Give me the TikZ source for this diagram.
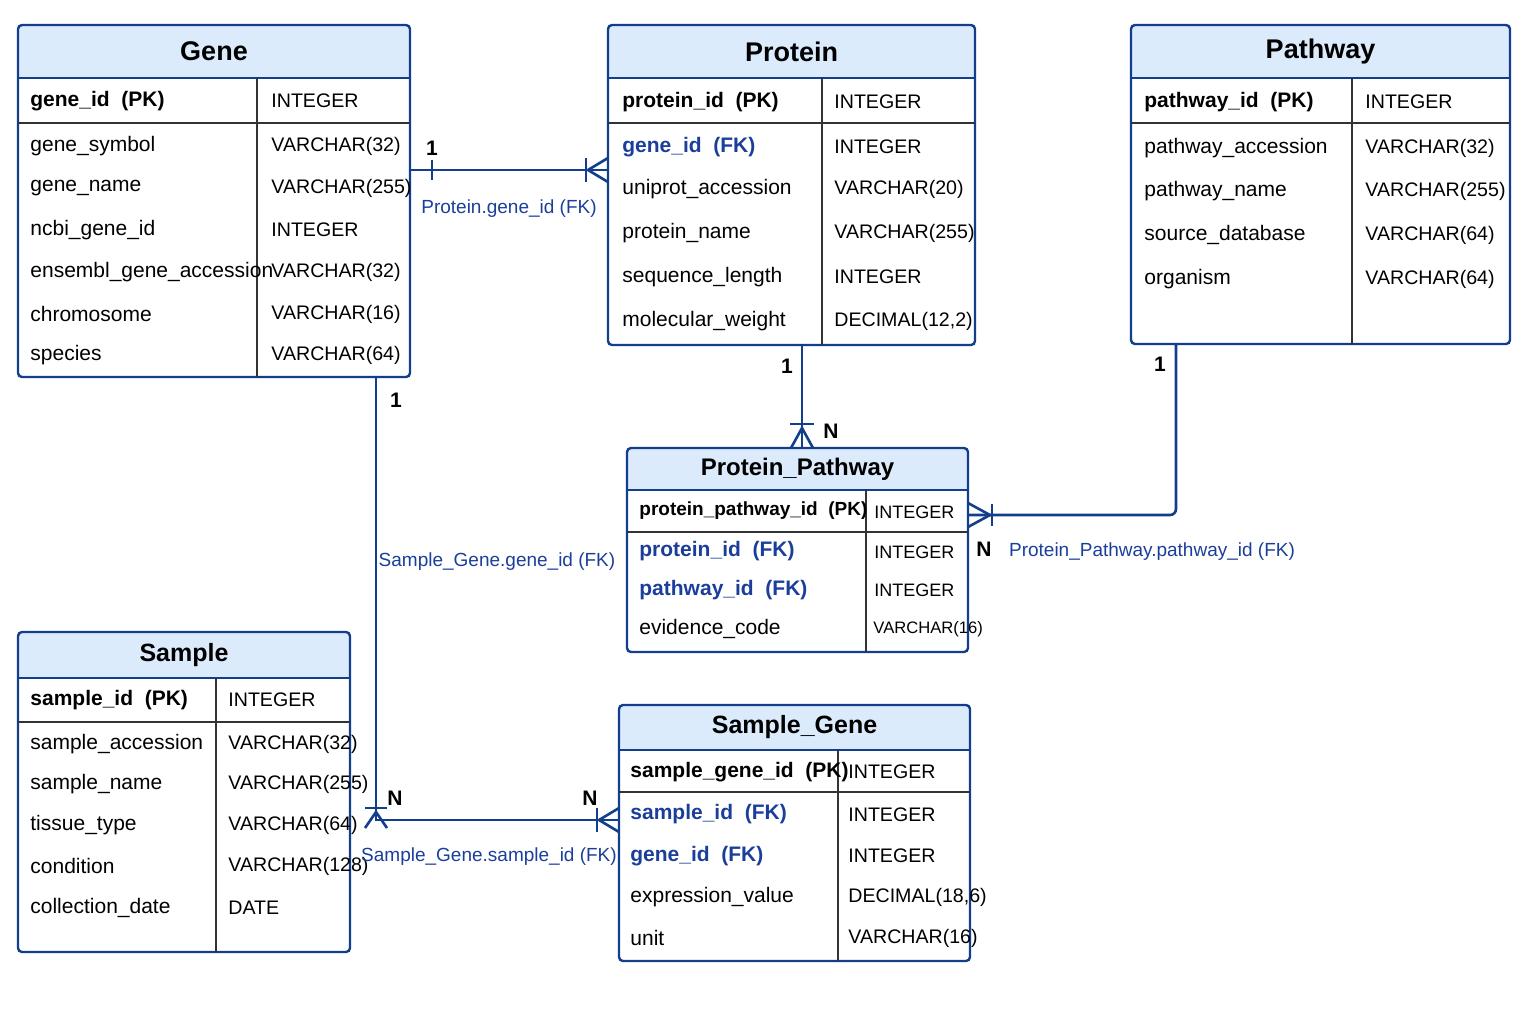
\documentclass[tikz,border=0pt]{standalone}
\usepackage{fontspec}
\setmainfont{Liberation Sans}
\definecolor{ln}{HTML}{123E8C}
\definecolor{hdr}{HTML}{DCEBFB}
\definecolor{fk}{HTML}{1A3E9A}
\begin{document}
\begin{tikzpicture}[x=0.5pt,y=-0.5pt,
  cell/.style={anchor=west,inner sep=0pt,font=\fontsize{10.5}{12}\selectfont},
  pk/.style={cell,font=\fontsize{10.5}{12}\selectfont\bfseries},
  fkc/.style={cell,font=\fontsize{10.5}{12}\selectfont\bfseries,text=fk},
  typ/.style={cell,font=\fontsize{9.8}{12}\selectfont},
  ttl/.style={inner sep=0pt,font=\fontsize{13.5}{15}\selectfont\bfseries},
  rel/.style={draw=ln,line width=1.3pt},
  card/.style={inner sep=0pt,font=\fontsize{10.5}{12}\selectfont\bfseries},
  fklab/.style={inner sep=0pt,text=fk,font=\fontsize{9.5}{12}\selectfont}]
\useasboundingbox (0,0) rectangle (1536,1024);
\newcommand\ertbl[9]{%
  \fill[hdr,rounded corners=2pt] (#2,#3) rectangle (#4,#6);
  \pgfmathsetmacro\ertw{(#4-#2)*0.5}\pgfmathsetmacro\erth{(#5-#3)*0.5}
  \node[draw=ln,line width=1.2pt,rounded corners=2pt,minimum width=\ertw pt,minimum height=\erth pt,inner sep=0pt] (#1) at ({(#2+#4)/2},{(#3+#5)/2}) {};
  \draw[ln,line width=1.2pt] (#2,#6) -- (#4,#6);
  \draw[black!80,line width=0.8pt] (#2,#7) -- (#4,#7);
  \draw[black!80,line width=0.8pt] (#8,#6) -- (#8,#5);
  \node[ttl] (#1-t) at ({(#2+#4)/2},{(#3+#6)/2}) {#9};}
% Gene
\ertbl{gene}{18}{25}{410}{377}{78}{123}{257}{Gene}
\node[pk] (g0) at (30,101) {gene\_id\ \ (PK)}; \node[typ] (g0t) at (271,101) {INTEGER};
\node[cell] (g1) at (30,146) {gene\_symbol}; \node[typ] (g1t) at (271,146) {VARCHAR(32)};
\node[cell] (g2) at (30,188) {gene\_name}; \node[typ] (g2t) at (271,188) {VARCHAR(255)};
\node[cell] (g3) at (30,230) {ncbi\_gene\_id}; \node[typ] (g3t) at (271,230) {INTEGER};
\node[cell] (g4) at (30,272) {ensembl\_gene\_accession}; \node[typ] (g4t) at (271,272) {VARCHAR(32)};
\node[cell] (g5) at (30,314) {chromosome}; \node[typ] (g5t) at (271,314) {VARCHAR(16)};
\node[cell] (g6) at (30,355) {species}; \node[typ] (g6t) at (271,355) {VARCHAR(64)};
% Protein
\ertbl{prot}{608}{25}{975}{345}{78}{123}{822}{Protein}
\node[pk] (p0) at (622,102) {protein\_id\ \ (PK)}; \node[typ] (p0t) at (834,102) {INTEGER};
\node[fkc] (p1) at (622,147) {gene\_id\ \ (FK)}; \node[typ] (p1t) at (834,147) {INTEGER};
\node[cell] (p2) at (622,189) {uniprot\_accession}; \node[typ] (p2t) at (834,189) {VARCHAR(20)};
\node[cell] (p3) at (622,233) {protein\_name}; \node[typ] (p3t) at (834,233) {VARCHAR(255)};
\node[cell] (p4) at (622,277) {sequence\_length}; \node[typ] (p4t) at (834,277) {INTEGER};
\node[cell] (p5) at (622,321) {molecular\_weight}; \node[typ] (p5t) at (834,321) {DECIMAL(12,2)};
% Pathway
\ertbl{path}{1131}{25}{1510}{344}{78}{123}{1352}{Pathway}
\node[pk] (w0) at (1144,102) {pathway\_id\ \ (PK)}; \node[typ] (w0t) at (1365,102) {INTEGER};
\node[cell] (w1) at (1144,148) {pathway\_accession}; \node[typ] (w1t) at (1365,148) {VARCHAR(32)};
\node[cell] (w2) at (1144,191) {pathway\_name}; \node[typ] (w2t) at (1365,191) {VARCHAR(255)};
\node[cell] (w3) at (1144,235) {source\_database}; \node[typ] (w3t) at (1365,235) {VARCHAR(64)};
\node[cell] (w4) at (1144,279) {organism}; \node[typ] (w4t) at (1365,279) {VARCHAR(64)};
% Protein_Pathway
\ertbl{pp}{627}{448}{968}{652}{490}{532}{866}{\fontsize{12}{14}\selectfont Protein\_Pathway}
\node[pk,font=\fontsize{9.5}{12}\selectfont\bfseries] (q0) at (639,511) {protein\_pathway\_id\ \ (PK)}; \node[typ,font=\fontsize{9}{12}\selectfont] (q0t) at (874,512) {INTEGER};
\node[fkc] (q1) at (639,551) {protein\_id\ \ (FK)}; \node[typ,font=\fontsize{9}{12}\selectfont] (q1t) at (874,552) {INTEGER};
\node[fkc] (q2) at (639,590) {pathway\_id\ \ (FK)}; \node[typ,font=\fontsize{9}{12}\selectfont] (q2t) at (874,590) {INTEGER};
\node[cell] (q3) at (639,629) {evidence\_code}; \node[typ,font=\fontsize{8.3}{12}\selectfont] (q3t) at (873,629) {VARCHAR(16)};
% Sample
\ertbl{samp}{18}{632}{350}{952}{678}{722}{216}{\fontsize{12.5}{14}\selectfont Sample}
\node[pk] (s0) at (30,700) {sample\_id\ \ (PK)}; \node[typ] (s0t) at (228,700) {INTEGER};
\node[cell] (s1) at (30,744) {sample\_accession}; \node[typ] (s1t) at (228,744) {VARCHAR(32)};
\node[cell] (s2) at (30,784) {sample\_name}; \node[typ] (s2t) at (228,784) {VARCHAR(255)};
\node[cell] (s3) at (30,825) {tissue\_type}; \node[typ] (s3t) at (228,825) {VARCHAR(64)};
\node[cell] (s4) at (30,866) {condition}; \node[typ] (s4t) at (228,866) {VARCHAR(128)};
\node[cell] (s5) at (30,908) {collection\_date}; \node[typ] (s5t) at (228,908) {DATE};
% Sample_Gene
\ertbl{sg}{619}{705}{970}{961}{750}{792}{838}{\fontsize{12.5}{14}\selectfont Sample\_Gene}
\node[pk] (r0) at (630,772) {sample\_gene\_id\ \ (PK)}; \node[typ] (r0t) at (848,772) {INTEGER};
\node[fkc] (r1) at (630,814) {sample\_id\ \ (FK)}; \node[typ] (r1t) at (848,815) {INTEGER};
\node[fkc] (r2) at (630,856) {gene\_id\ \ (FK)}; \node[typ] (r2t) at (848,856) {INTEGER};
\node[cell] (r3) at (630,897) {expression\_value}; \node[typ] (r3t) at (848,897) {DECIMAL(18,6)};
\node[cell] (r4) at (630,938) {unit}; \node[typ] (r4t) at (848,938) {VARCHAR(16)};
% connector endpoints
\coordinate (c1a) at (gene.east |- 0,170); \coordinate (c1b) at (prot.west |- 0,170);
\coordinate (c2a) at (802,345); \coordinate (c2b) at (802,448);
\coordinate (c3a) at (1176,344); \coordinate (c3k) at (1176,515); \coordinate (c3b) at (968,515);
\coordinate (c4a) at (376,377); \coordinate (c4k) at (376,820); \coordinate (c4b) at (619,820);
% Gene - Protein
\draw[rel] (c1a) -- (c1b);
\draw[rel] (432,160) -- (432,180);
\draw[rel] (586,158) -- (586,182);
\draw[rel] (608,158) -- (588,170) -- (608,182);
\node[card] (n1) at (432,148) {1};
\node[fklab] (l1) at (509,209) {Protein.gene\_id (FK)};
% Protein - PP
\draw[rel] (c2a) -- (c2b);
\draw[rel] (790,424) -- (814,424);
\draw[rel] (791,448) -- (802,428) -- (813,448);
\node[card] (n2) at (787,366) {1};
\node[card] (n3) at (831,431) {N};
% Pathway - PP
\draw[rel,rounded corners=3pt] (c3a) -- (c3k) -- (c3b);
\draw[rel] (992,504) -- (992,526);
\draw[rel] (968,503) -- (990,515) -- (968,527);
\node[card] (n4) at (1160,364) {1};
\node[card] (n5) at (984,549) {N};
\node[fklab] (l3) at (1152,552) {Protein\_Pathway.pathway\_id (FK)};
% Gene - Sample_Gene
\draw[rel] (c4a) -- (c4k) -- (c4b);
\draw[rel] (365,808) -- (387,808);
\draw[rel] (365,828) -- (376,812) -- (387,828);
\draw[rel] (597,808) -- (597,832);
\draw[rel] (619,808) -- (599,820) -- (619,832);
\node[card] (n6) at (396,400) {1};
\node[card] (n7) at (395,798) {N};
\node[card] (n8) at (590,798) {N};
\node[fklab] (l4) at (497,562) {Sample\_Gene.gene\_id (FK)};
\node[fklab] (l5) at (489,857) {Sample\_Gene.sample\_id (FK)};
\end{tikzpicture}
\end{document}
